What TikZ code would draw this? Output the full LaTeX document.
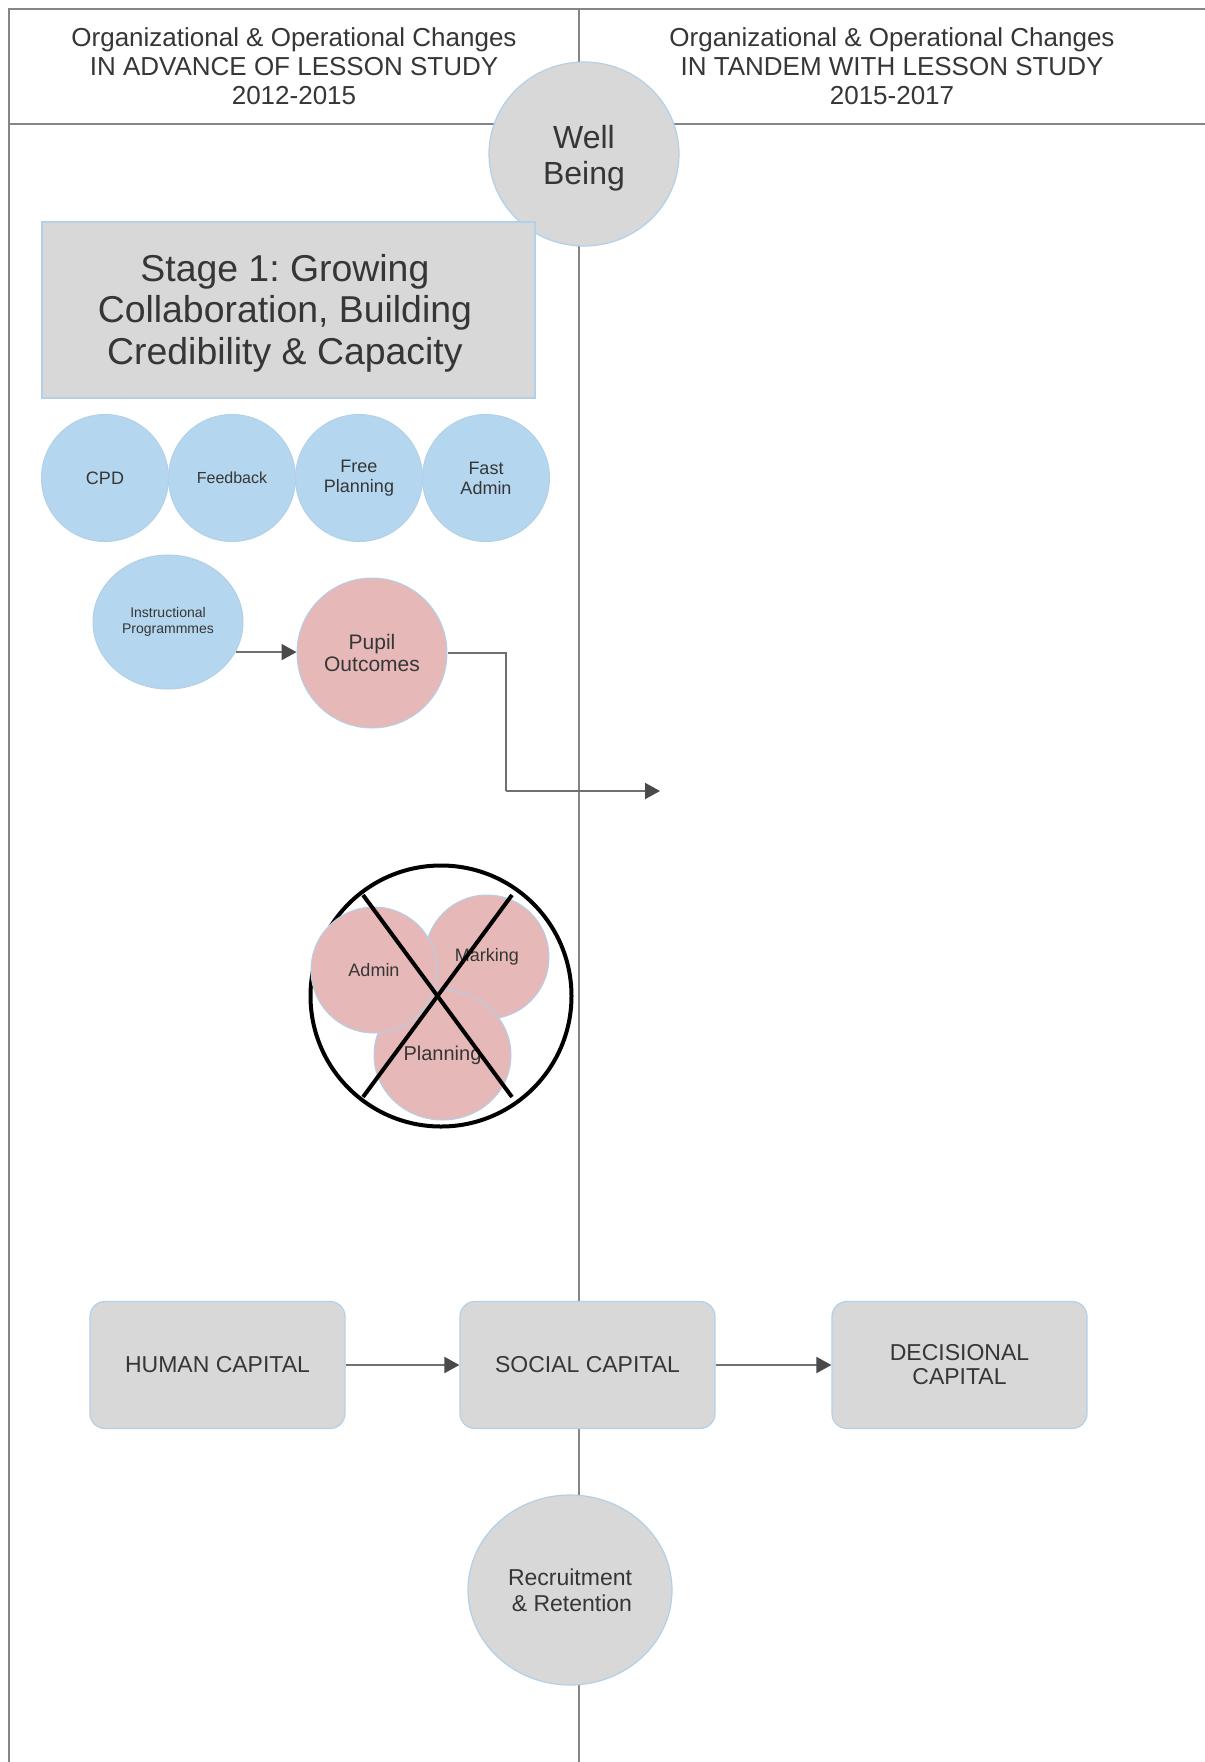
\documentclass[tikz,border=0pt]{standalone}
\usepackage{fontspec}
\setmainfont{Liberation Sans}
\usetikzlibrary{arrows.meta,shapes.geometric}
\frenchspacing

\definecolor{framegray}{HTML}{858585}
\definecolor{boxgray}{HTML}{D8D8D8}
\definecolor{edgeblue}{HTML}{B2D1E8}
\definecolor{bubbleblue}{HTML}{B4D6EE}
\definecolor{bubblepink}{HTML}{E6B8B7}
\definecolor{inkgray}{HTML}{363636}
\definecolor{linkgray}{HTML}{707070}
\definecolor{tipgray}{HTML}{4A4A4A}

\newcommand{\fsz}[2]{\fontsize{#1}{#2}\selectfont}

\begin{document}
\begin{tikzpicture}[x=0.5pt,y=-0.5pt,
  every node/.style={text=inkgray, inner sep=0pt, align=center},
  frameline/.style={draw=framegray, line width=1pt},
  bluebubble/.style={circle, fill=bubbleblue, draw=edgeblue, line width=0.5pt, minimum size=63.5pt},
  pinkbubble/.style={circle, fill=bubblepink, draw=edgeblue, line width=0.5pt},
  graybubble/.style={ellipse, fill=boxgray, draw=edgeblue, line width=0.6pt},
  capitalbox/.style={rectangle, rounded corners=7.5pt, fill=boxgray, draw=edgeblue, line width=0.6pt,
    minimum width=127.5pt, minimum height=63.5pt, font=\fsz{11.5pt}{12pt}},
  link/.style={draw=linkgray, line width=1pt,
    -{Triangle[length=7.5pt, width=8pt, color=tipgray, fill=tipgray]}},
  plainlink/.style={draw=linkgray, line width=1pt},
  cross/.style={draw=black, line width=2pt},
]
\useasboundingbox (0,0) rectangle (1205,1762);
\fill[white] (0,0) rectangle (1205,1762);

% frame of the two-column table
\coordinate (tl) at (9,9);
\coordinate (tr) at (1205,9);
\coordinate (bl) at (9,1762);
\coordinate (hl) at (9,124);
\coordinate (hr) at (1205,124);
\coordinate (dt) at (579,9);
\coordinate (db) at (579,1762);
\draw[frameline] (tr) -- (tl) -- (bl);
\draw[frameline] (hl) -- (hr);
\draw[frameline] (dt) -- (db);

% column headings
\node[font=\fsz{13pt}{14.5pt}] (headL) at (294,66)
  {Organizational \& Operational Changes\\IN ADVANCE OF LESSON STUDY\\2012-2015};
\node[font=\fsz{13pt}{14.5pt}] (headR) at (892,66)
  {Organizational \& Operational Changes\\IN TANDEM WITH LESSON STUDY\\2015-2017};

% well being
\node[graybubble, minimum width=95pt, minimum height=92pt] (well) at (584,154) {};
\node[font=\fsz{16pt}{18pt}] (wellText) at ([yshift=-2.2pt]well.center) {Well\\Being};

% stage heading
\node[rectangle, fill=boxgray, draw=edgeblue, line width=0.6pt,
  minimum width=246.5pt, minimum height=88pt] (stage) at (288.5,310) {};
\node[font=\fsz{18.7pt}{20.8pt}] (stageText) at ([xshift=-1.8pt,yshift=-1.5pt]stage.center)
  {Stage 1: Growing\\Collaboration, Building\\Credibility \& Capacity};

% first-stage initiatives
\node[bluebubble, font=\fsz{9pt}{10pt}] (cpd) at (105,478) {CPD};
\node[bluebubble, font=\fsz{8pt}{10pt}] (feedback) at (232,478) {Feedback};
\node[bluebubble, font=\fsz{9pt}{10pt}] (freeplan) at (359,478) {Free\\Planning};
\node[bluebubble, font=\fsz{9pt}{10pt}] (fastadmin) at (486,478) {Fast\\Admin};

\node[ellipse, fill=bubbleblue, draw=edgeblue, line width=0.5pt,
  minimum width=75pt, minimum height=67pt, font=\fsz{7pt}{8pt}] (instr) at (168,622)
  {Instructional\\Programmmes};
\node[pinkbubble, minimum size=75pt, font=\fsz{10.5pt}{11pt}] (pupil) at (372,653)
  {Pupil\\Outcomes};

\coordinate (bend) at (506,791);
\coordinate (pupilEnd) at (660,791);
\draw[link] (instr.-24) -- (instr.-24 -| pupil.west);
\draw[plainlink] (pupil.east) -| (bend);
\draw[link] (bend) -- (pupilEnd);

% workload items that were removed
\node[circle, draw=black, line width=2pt, minimum size=130.5pt] (ring) at (441,996) {};
\node[pinkbubble, minimum size=62pt, font=\fsz{9pt}{10pt}] (marking) at (487,957) {Marking};
\node[ellipse, fill=bubblepink, draw=edgeblue, line width=0.5pt,
  minimum width=68.5pt, minimum height=65pt, font=\fsz{10pt}{11pt}] (planning) at (442.5,1055) {Planning};
\node[pinkbubble, minimum size=63pt, font=\fsz{9pt}{10pt}] (admin) at (374,970) {Admin};
\coordinate (xa) at (363,895);
\coordinate (xb) at (512,1097);
\coordinate (xc) at (512,895);
\coordinate (xd) at (363,1097);
\draw[cross] (xa) -- (xb);
\draw[cross] (xc) -- (xd);

% capital chain
\node[capitalbox] (human) at (217.5,1365) {HUMAN CAPITAL};
\node[capitalbox] (social) at (587.5,1365) {SOCIAL CAPITAL};
\node[capitalbox] (decision) at (959.5,1365) {DECISIONAL\\CAPITAL};
\draw[link] (human) -- (social);
\draw[link] (social) -- (decision);

% recruitment
\node[graybubble, minimum width=102pt, minimum height=95pt, font=\fsz{11.5pt}{13pt}] (recruit) at (570,1590)
  {Recruitment\\\,\& Retention};
\end{tikzpicture}
\end{document}
